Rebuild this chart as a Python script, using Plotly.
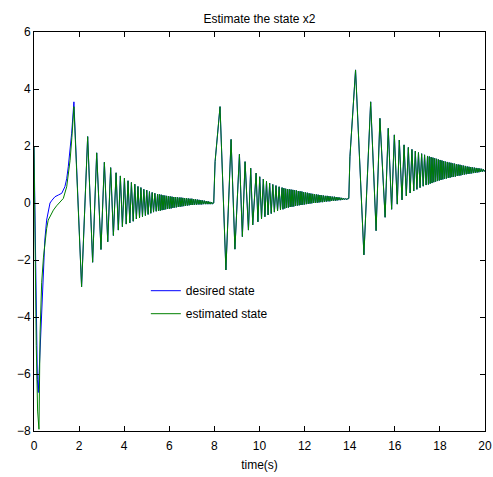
import plotly.graph_objects as go

# Start-up transient (before the first peak) differs between the two signals
t_start_desired = [0.00, 0.05, 0.10, 0.15, 0.19, 0.25, 0.34, 0.41, 0.48, 0.56, 0.64,
                   0.71, 0.80, 0.93, 1.08, 1.23, 1.37, 1.45, 1.52, 1.60, 1.67, 1.77]
x2_start_desired = [2.00, -1.50, -4.50, -6.20, -6.65, -5.50, -3.40, -2.23, -1.30, -0.60, -0.20,
                    0.00, 0.10, 0.22, 0.28, 0.34, 0.57, 0.85, 1.27, 1.80, 2.45, 3.55]

t_start_est = [0.00, 0.05, 0.10, 0.16, 0.22, 0.27, 0.34, 0.42, 0.49, 0.56, 0.63,
               0.75, 0.86, 1.00, 1.15, 1.30, 1.45, 1.60, 1.68, 1.77]
x2_start_est = [2.00, -2.00, -5.00, -7.30, -7.94, -4.56, -2.80, -1.90, -1.30, -0.90, -0.60,
                -0.40, -0.25, -0.10, 0.05, 0.16, 0.57, 1.50, 2.30, 3.38]

# Oscillation extrema shared by both signals after the first peak
t_burst1 = [2.11, 2.38, 2.60, 2.78, 2.97, 3.12, 3.27, 3.40, 3.52, 3.64, 3.74, 3.83,
            3.92, 4.01, 4.09, 4.17,
            4.25, 4.32, 4.40, 4.47, 4.54, 4.61, 4.68, 4.74, 4.81, 4.87,
            4.94, 5.00, 5.06, 5.12, 5.18, 5.24, 5.30, 5.36, 5.42, 5.48,
            5.52, 5.56, 5.60, 5.64, 5.68, 5.72, 5.76, 5.80, 5.84, 5.88,
            5.92, 5.96, 6.00, 6.04, 6.08, 6.12, 6.16, 6.20, 6.24, 6.28,
            6.32, 6.36, 6.40, 6.44, 6.48, 6.52, 6.56, 6.60, 6.64, 6.68,
            6.72, 6.76, 6.80, 6.84, 6.88, 6.92, 6.96, 7.00, 7.04, 7.08,
            7.12, 7.16, 7.20, 7.24, 7.28, 7.32, 7.36, 7.40, 7.44, 7.48,
            7.52, 7.56, 7.60, 7.64, 7.68, 7.72, 7.76, 7.80, 7.84, 7.88, 7.92]
x2_burst1 = [-2.94, 2.33, -2.08, 1.76, -1.63, 1.43, -1.36, 1.24, -1.14, 1.06, -0.95, 0.95,
             -0.83, 0.87, -0.74, 0.78,
             -0.70, 0.72, -0.64, 0.66, -0.56, 0.58, -0.52, 0.54, -0.48, 0.48,
             -0.44, 0.45, -0.40, 0.40, -0.36, 0.37, -0.32, 0.34, -0.29, 0.31,
             -0.28, 0.30, -0.27, 0.29, -0.25, 0.27, -0.24, 0.26, -0.22, 0.25,
             -0.21, 0.24, -0.20, 0.23, -0.19, 0.22, -0.17, 0.21, -0.16, 0.21,
             -0.15, 0.20, -0.14, 0.19, -0.13, 0.19, -0.12, 0.18, -0.11, 0.17,
             -0.10, 0.17, -0.09, 0.16, -0.08, 0.15, -0.07, 0.15, -0.07, 0.14,
             -0.06, 0.13, -0.06, 0.12, -0.05, 0.11, -0.05, 0.10, -0.05, 0.09,
             -0.04, 0.08, -0.04, 0.07, -0.04, 0.06, -0.04, 0.04, -0.04, 0.03, -0.03]

t_burst2 = [7.97, 8.03, 8.25, 8.51, 8.74, 8.91, 9.11, 9.24, 9.36, 9.51, 9.61, 9.70,
            9.85, 9.93, 10.01, 10.09, 10.17, 10.24, 10.31, 10.38, 10.45, 10.52,
            10.59, 10.66, 10.73, 10.80, 10.87, 10.93, 11.00,
            11.04, 11.08, 11.12, 11.16, 11.20, 11.24, 11.28, 11.32, 11.36, 11.40,
            11.44, 11.48, 11.52, 11.56, 11.60, 11.64, 11.68, 11.72, 11.76, 11.80,
            11.84, 11.88, 11.92, 11.96, 12.00, 12.04, 12.08, 12.12, 12.16, 12.20,
            12.24, 12.28, 12.32, 12.36, 12.40, 12.44, 12.48, 12.52, 12.56, 12.60,
            12.64, 12.68, 12.72, 12.76, 12.80, 12.84, 12.88, 12.92, 12.96, 13.00,
            13.04, 13.08, 13.12, 13.16, 13.20, 13.24, 13.28, 13.32, 13.36, 13.40,
            13.44, 13.48, 13.52, 13.56, 13.60, 13.64, 13.68, 13.72, 13.76, 13.80,
            13.84, 13.88, 13.92]
x2_burst2 = [0.00, 1.45, 3.38, -2.35, 2.23, -1.62, 1.71, -1.18, 1.45, -0.95, 1.22, -0.77,
             1.05, -0.66, 0.92, -0.56, 0.84, -0.48, 0.76, -0.42, 0.70, -0.37,
             0.65, -0.32, 0.61, -0.28, 0.57, -0.24, 0.54,
             -0.22, 0.52, -0.19, 0.50, -0.17, 0.49, -0.16, 0.48, -0.14, 0.47,
             -0.13, 0.46, -0.12, 0.45, -0.10, 0.44, -0.09, 0.42, -0.08, 0.41,
             -0.07, 0.40, -0.06, 0.38, -0.05, 0.37, -0.04, 0.36, -0.03, 0.34,
             -0.02, 0.33, -0.01, 0.32, 0.00, 0.31, 0.00, 0.30, 0.01, 0.29,
             0.02, 0.28, 0.03, 0.27, 0.03, 0.26, 0.04, 0.25, 0.05, 0.25,
             0.06, 0.24, 0.06, 0.23, 0.07, 0.22, 0.08, 0.22, 0.08, 0.21,
             0.09, 0.20, 0.10, 0.19, 0.10, 0.18, 0.11, 0.17, 0.12, 0.16,
             0.12, 0.15, 0.14]

t_burst3 = [13.96, 14.01, 14.26, 14.63, 14.93, 15.17, 15.34, 15.57, 15.71, 15.86, 15.98,
            16.11, 16.20, 16.32, 16.41, 16.51, 16.60, 16.68, 16.76, 16.84, 16.91,
            16.98, 17.05, 17.12, 17.19, 17.26, 17.32, 17.39, 17.45,
            17.49, 17.53, 17.57, 17.61, 17.65, 17.69, 17.73, 17.77, 17.81, 17.85,
            17.89, 17.93, 17.97, 18.01, 18.05, 18.09, 18.13, 18.17, 18.21, 18.25,
            18.29, 18.33, 18.37, 18.41, 18.45, 18.49, 18.53, 18.57, 18.61, 18.65,
            18.69, 18.73, 18.77, 18.81, 18.85, 18.89, 18.93, 18.97, 19.01, 19.05,
            19.09, 19.13, 19.17, 19.21, 19.25, 19.29, 19.33, 19.37, 19.41, 19.45,
            19.49, 19.53, 19.57, 19.61, 19.65, 19.69, 19.73, 19.77, 19.81, 19.85,
            19.89, 19.93, 19.97, 20.00]
x2_burst3 = [0.16, 1.62, 4.67, -1.82, 3.55, -0.97, 2.97, -0.50, 2.62, -0.22, 2.39,
             -0.04, 2.21, 0.11, 2.04, 0.25, 1.95, 0.35, 1.88, 0.42, 1.82,
             0.48, 1.77, 0.54, 1.73, 0.59, 1.69, 0.63, 1.65,
             0.65, 1.63, 0.68, 1.61, 0.70, 1.59, 0.73, 1.57, 0.75, 1.55,
             0.77, 1.53, 0.79, 1.51, 0.81, 1.49, 0.83, 1.47, 0.85, 1.45,
             0.86, 1.44, 0.88, 1.42, 0.89, 1.41, 0.91, 1.39, 0.92, 1.38,
             0.93, 1.36, 0.95, 1.35, 0.96, 1.34, 0.97, 1.32, 0.99, 1.31,
             1.00, 1.30, 1.01, 1.28, 1.02, 1.27, 1.03, 1.26, 1.04, 1.25,
             1.05, 1.24, 1.06, 1.23, 1.07, 1.22, 1.08, 1.21, 1.09, 1.20,
             1.10, 1.18, 1.11, 1.15]

assert len(t_start_desired) == len(x2_start_desired)
assert len(t_start_est) == len(x2_start_est)
assert len(t_burst1) == len(x2_burst1), (len(t_burst1), len(x2_burst1))
assert len(t_burst2) == len(x2_burst2), (len(t_burst2), len(x2_burst2))
assert len(t_burst3) == len(x2_burst3), (len(t_burst3), len(x2_burst3))

t_osc = t_burst1 + t_burst2 + t_burst3
x2_osc = x2_burst1 + x2_burst2 + x2_burst3

t_desired = t_start_desired + t_osc
x2_desired = x2_start_desired + x2_osc
t_est = t_start_est + t_osc
x2_est = x2_start_est + x2_osc

FONT = "Liberation Sans, Arial, sans-serif"

fig = go.Figure()
fig.add_trace(go.Scatter(x=t_desired, y=x2_desired, mode="lines", name="desired state",
                         legendgroup="a", line=dict(color="#0000ff", width=1)))
fig.add_trace(go.Scatter(x=t_est, y=x2_est, mode="lines", name="estimated state",
                         legendgroup="b", line=dict(color="#008000", width=1)))

axis_common = dict(
    showline=True, linecolor="black", linewidth=1, mirror="ticks",
    ticks="inside", ticklen=5, tickcolor="black", tickwidth=1,
    showgrid=False, zeroline=False, dtick=2, automargin=False,
    tickfont=dict(family=FONT, size=12, color="black"),
)

fig.update_layout(
    width=493, height=477,
    margin=dict(l=34, r=8, t=32, b=46),
    paper_bgcolor="white", plot_bgcolor="white",
    title=dict(text="Estimate the state x2", x=0.5, xref="paper", y=1 - 19 / 477,
               yanchor="middle", font=dict(family=FONT, size=12, color="black")),
    xaxis=dict(range=[0, 20], ticklabelstandoff=4,
               title=dict(text="time(s)", standoff=8,
                          font=dict(family=FONT, size=12, color="black")),
               **axis_common),
    yaxis=dict(range=[-8, 6], **axis_common),
    legend=dict(x=0.248, y=0.388, xanchor="left", yanchor="top",
                bgcolor="rgba(0,0,0,0)", traceorder="grouped", tracegroupgap=4,
                font=dict(family=FONT, size=12, color="black")),
    showlegend=True,
)

fig.write_html("out.html")
